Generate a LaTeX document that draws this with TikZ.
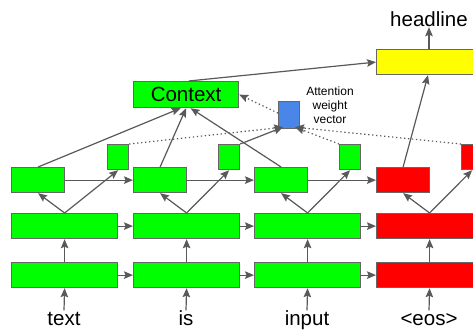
\documentclass[tikz,border=0pt]{standalone}
\usepackage{fontspec}
\setmainfont{Liberation Sans}
\usetikzlibrary{arrows.meta}
\definecolor{lnk}{HTML}{595959}
\definecolor{bord}{HTML}{666666}
\definecolor{gr}{HTML}{00FF00}
\definecolor{rd}{HTML}{FF0000}
\definecolor{yl}{HTML}{FFFF00}
\definecolor{bl}{HTML}{4A86E8}
\begin{document}
\begin{tikzpicture}[x=1pt,y=-1pt,
  box/.style={draw=bord,line width=1.2pt,inner sep=0pt,anchor=north west,minimum height=25pt},
  arr/.style={draw=lnk,line width=1.2pt,-{Stealth[length=9pt,width=7.5pt,inset=1.5pt]}},
  dotline/.style={dash pattern=on 1.3pt off 2.7pt},
  word/.style={inner sep=0pt,anchor=base,text height=14.5pt,text depth=0pt,font=\fontsize{20.5}{24}\selectfont}]
\useasboundingbox (0,0) rectangle (473,329);
\clip (0,0) rectangle (473,329);
\fill[white] (0,0) rectangle (473,329);
\foreach \x/\q/\i/\c in {11/107/1/gr,133/218/2/gr,254/339/3/gr,376/461/4/rd} {
  \node[box,fill=\c,minimum width=106pt] (a\i) at (\x,262) {};
  \node[box,fill=\c,minimum width=106pt] (b\i) at (\x,213) {};
  \node[box,fill=\c,minimum width=53pt] (s\i) at (\x,167) {};
  \node[box,fill=\c,minimum width=21pt] (q\i) at (\q,144) {};
}
\node[word] (w1) at (64,325) {text};
\node[word] (w2) at (186,325) {is};
\node[word] (w3) at (307,325) {input};
\node[word] (w4) at (429,325) {<eos>};
\foreach \i in {1,...,4} {
  \draw[arr] (w\i.north) -- (a\i.south);
  \draw[arr] (a\i.north) -- (b\i.south);
  \draw[arr] (b\i.north) -- (s\i.south);
  \draw[arr] (b\i.north) -- (q\i.south);
}
\foreach \i/\j in {1/2,2/3,3/4} {
  \draw[arr] (a\i.east) -- (a\j.west);
  \draw[arr] (b\i.east) -- (b\j.west);
  \draw[arr] (s\i.east) -- (s\j.west);
}
\node[box,fill=gr,minimum width=105pt,minimum height=26pt,font=\fontsize{20.5}{24}\selectfont] (ctx) at (133,81) {Context};
\node[box,fill=yl,minimum width=130pt] (yel) at (376,49) {};
\node[inner sep=0pt,anchor=base,text depth=0pt,font=\fontsize{20.5}{24}\selectfont] (hl) at (429,27) {headline};
\node[box,fill=bl,minimum width=21pt,minimum height=27pt] (att) at (278,101) {};
\node[anchor=north,inner sep=0pt,align=center,font=\fontsize{12}{14}\selectfont] (lbl) at (330,86.5) {Attention\\weight\\vector};
\draw[arr] (s1.north) -- ([xshift=-5.5pt]ctx.south);
\draw[arr] (s2.north) -- (ctx.south);
\draw[arr] (s3.north) -- ([xshift=4.5pt]ctx.south);
\draw[arr] ([xshift=2.5pt]ctx.north) -- (yel.west);
\draw[arr] (s4.north) -- ([xshift=52pt]yel.south west);
\draw[arr] (hl.south |- yel.north) -- (hl.south);
\draw[arr,dotline] (q1.north east) -- ([xshift=5pt,yshift=2pt]att.south west);
\draw[arr] (q2.north east) -- ([xshift=5pt,yshift=2pt]att.south west);
\draw[arr,dotline] (q3.north west) -- ([xshift=-5pt,yshift=2pt]att.south east);
\draw[arr,dotline] (q4.north west) -- ([xshift=-5pt,yshift=2pt]att.south east);
\draw[arr,dotline] ([yshift=2pt]att.west) -- (ctx.east);
\end{tikzpicture}
\end{document}
